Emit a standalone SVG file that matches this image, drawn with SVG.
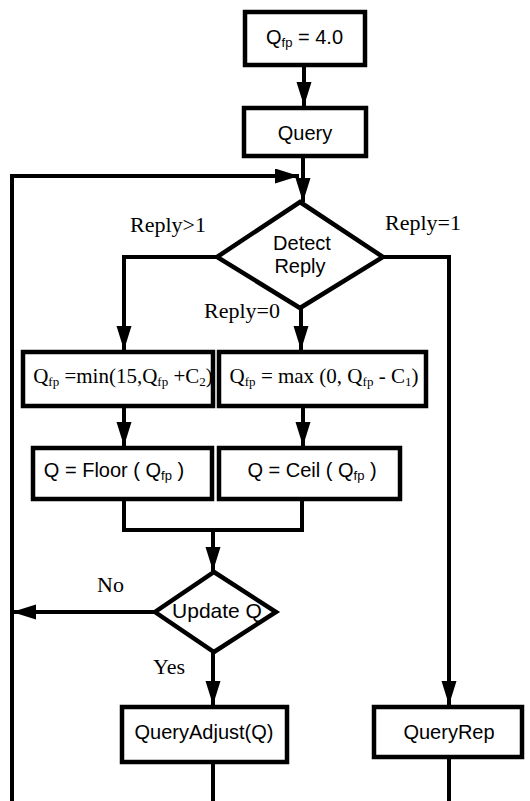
<svg xmlns="http://www.w3.org/2000/svg" width="530" height="801" viewBox="0 0 530 801">
<style>
.box{fill:#fff;stroke:#000;stroke-width:4.5}
.ln{fill:none;stroke:#000;stroke-width:4}
.sans{font-family:"Liberation Sans",Arial,sans-serif;font-size:20px;fill:#000}
.serif{font-family:"Liberation Serif","Times New Roman",serif;font-size:22px;fill:#000}
.f{font-family:"Liberation Serif","Times New Roman",serif;font-size:21px;fill:#000}
.sub{font-size:13px}
</style>
<defs>
<marker id="ah" markerUnits="userSpaceOnUse" markerWidth="26" markerHeight="16" refX="24" refY="7.5" orient="auto">
<path d="M0,0 L24,7.5 L0,15 z" fill="#000"/>
</marker>
</defs>
<rect width="530" height="801" fill="#fff"/>
<g id="connectors">
<path class="ln" d="M304,65 V106" marker-end="url(#ah)"/>
<path class="ln" d="M303,156 V202" marker-end="url(#ah)"/>
<path class="ln" d="M12,801 V176 H299" marker-end="url(#ah)"/>
<path class="ln" d="M217,257 H124 V350" marker-end="url(#ah)"/>
<path class="ln" d="M301,308 V350" marker-end="url(#ah)"/>
<path class="ln" d="M383,257 H449 V705" marker-end="url(#ah)"/>
<path class="ln" d="M124,406 V446" marker-end="url(#ah)"/>
<path class="ln" d="M303,406 V446" marker-end="url(#ah)"/>
<path class="ln" d="M124,499 V530 H302 V499"/>
<path class="ln" d="M213,530 V571" marker-end="url(#ah)"/>
<path class="ln" d="M155,612 H12" marker-end="url(#ah)"/>
<path class="ln" d="M213,652 V705" marker-end="url(#ah)"/>
<path class="ln" d="M213,762 V801"/>
<path class="ln" d="M449,757 V801"/>
</g>
<g id="init">
<rect class="box" x="245" y="12" width="120" height="53"/>
<text class="sans" x="266" y="44">Q<tspan class="sub" dy="3">fp</tspan><tspan dy="-3"> = 4.0</tspan></text>
</g>
<g id="query">
<rect class="box" x="244" y="108" width="122" height="48"/>
<text class="sans" x="305" y="140" text-anchor="middle">Query</text>
</g>
<g id="detect">
<polygon class="box" points="300,202 383,257 300,308 217,257"/>
<text class="sans" x="302" y="250" text-anchor="middle">Detect</text>
<text class="sans" x="300" y="273" text-anchor="middle">Reply</text>
</g>
<g id="labels">
<text class="serif" x="130" y="232">Reply&gt;1</text>
<text class="serif" x="385" y="230">Reply=1</text>
<text class="serif" x="204" y="318">Reply=0</text>
<text class="serif" x="97" y="592">No</text>
<text class="serif" x="153" y="674">Yes</text>
</g>
<g id="minbox">
<rect class="box" x="23" y="352" width="190" height="54"/>
<text class="f" x="123" y="383" text-anchor="middle">Q<tspan class="sub" dy="3">fp</tspan><tspan dy="-3"> =min(15,Q</tspan><tspan class="sub" dy="3">fp</tspan><tspan dy="-3"> +C</tspan><tspan class="sub" dy="3">2</tspan><tspan dy="-3">)</tspan></text>
</g>
<g id="maxbox">
<rect class="box" x="219" y="352" width="207" height="54"/>
<text class="f" x="324" y="383" text-anchor="middle">Q<tspan class="sub" dy="3">fp</tspan><tspan dy="-3"> = max (0, Q</tspan><tspan class="sub" dy="3">fp</tspan><tspan dy="-3"> - C</tspan><tspan class="sub" dy="3">1</tspan><tspan dy="-3">)</tspan></text>
</g>
<g id="floor">
<rect class="box" x="33" y="448" width="179" height="51"/>
<text class="sans" x="114" y="477" text-anchor="middle">Q = Floor ( Q<tspan class="sub" dy="3">fp</tspan><tspan dy="-3"> )</tspan></text>
</g>
<g id="ceil">
<rect class="box" x="219" y="448" width="181" height="51"/>
<text class="sans" x="312" y="477" text-anchor="middle">Q = Ceil ( Q<tspan class="sub" dy="3">fp</tspan><tspan dy="-3"> )</tspan></text>
</g>
<g id="update">
<polygon class="box" points="214,572 276,612 214,652 155,612"/>
<text class="sans" x="217" y="618" text-anchor="middle" style="font-size:21px">Update Q</text>
</g>
<g id="adjust">
<rect class="box" x="122" y="707" width="165" height="55"/>
<text class="sans" x="204" y="739" text-anchor="middle">QueryAdjust(Q)</text>
</g>
<g id="rep">
<rect class="box" x="374" y="707" width="148" height="50"/>
<text class="sans" x="449" y="739" text-anchor="middle">QueryRep</text>
</g>
</svg>
